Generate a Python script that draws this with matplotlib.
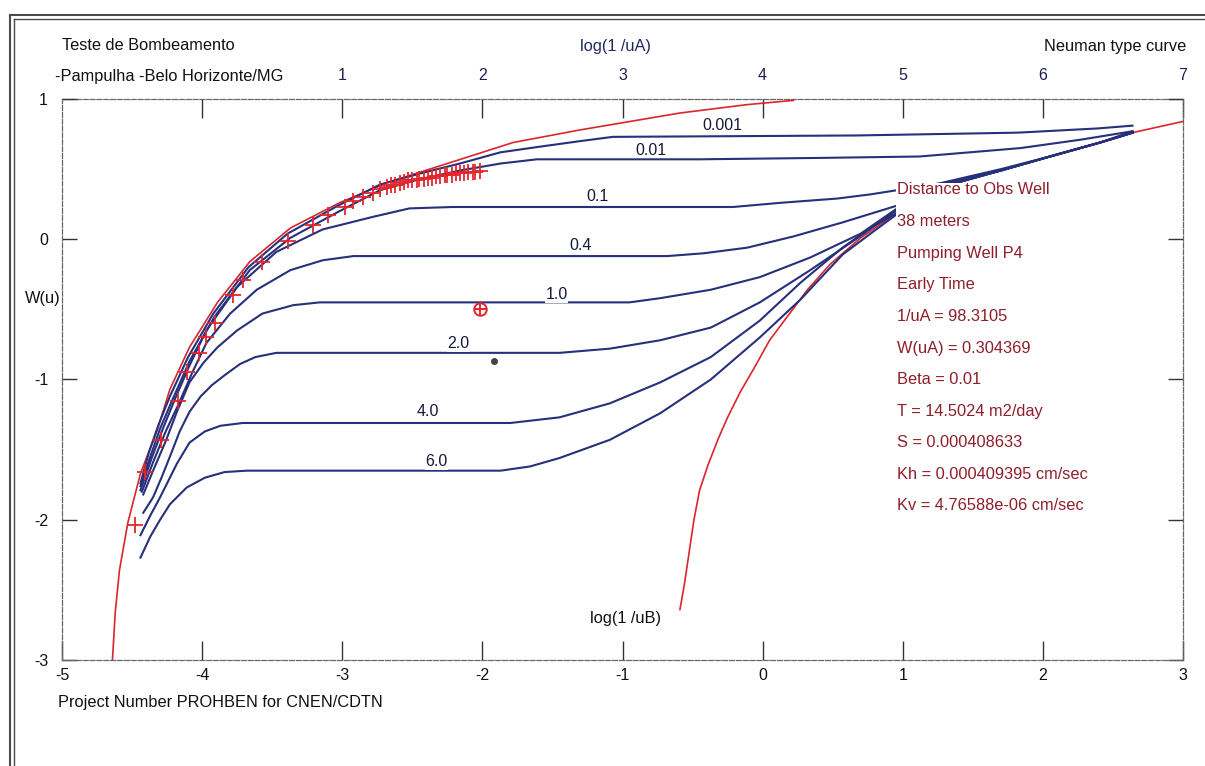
import matplotlib
matplotlib.use("Agg")
import matplotlib.pyplot as plt
from matplotlib.patches import Rectangle
from matplotlib.lines import Line2D

plt.rcParams['font.family'] = ['Liberation Sans', 'DejaVu Sans']
plt.rcParams['axes.unicode_minus'] = False

# ---------------- data (log10 values) ----------------
# Theis curve, type A (early time) vs log(1/uB) axis
theis_a_x = [-4.64, -4.62, -4.59, -4.53, -4.44, -4.32, -4.23, -4.09, -3.89, -3.66, -3.37, -3.02,
             -2.66, -2.25, -1.78, -1.30, -0.59, -0.11, 0.22]
theis_a_w = [-3.00, -2.66, -2.36, -2.02, -1.67, -1.36, -1.07, -0.77, -0.45, -0.16, 0.08, 0.26,
             0.41, 0.54, 0.69, 0.78, 0.90, 0.96, 0.99]
# Theis curve, type B (late time)
theis_b_x = [-0.59, -0.56, -0.53, -0.49, -0.45, -0.39, -0.32, -0.25, -0.16, -0.05, 0.05, 0.20,
             0.32, 0.48, 0.70, 0.96, 1.27, 1.70, 2.05, 2.41, 2.64, 3.00]
theis_b_w = [-2.64, -2.47, -2.27, -2.00, -1.79, -1.61, -1.43, -1.27, -1.09, -0.90, -0.72, -0.52,
             -0.36, -0.18, 0.01, 0.19, 0.37, 0.49, 0.59, 0.69, 0.76, 0.84]

beta_labels = ["0.001", "0.01", "0.1", "0.4", "1.0", "2.0", "4.0", "6.0"]

b0001_x = [-4.44, -4.38, -4.31, -4.23, -4.10, -3.92, -3.67, -3.39, -3.03, -2.73, -2.44, -2.16,
           -1.87, -1.59, -1.30, -1.07, 0.67, 1.82, 2.39, 2.64]
b0001_w = [-1.74, -1.52, -1.32, -1.12, -0.84, -0.53, -0.20, 0.04, 0.24, 0.39, 0.47, 0.54,
           0.62, 0.66, 0.70, 0.73, 0.74, 0.76, 0.79, 0.81]

b001_x = [-4.44, -4.37, -4.30, -4.21, -4.09, -3.91, -3.66, -3.37, -3.02, -2.73, -2.44, -2.16,
          -1.87, -1.61, -0.45, 0.41, 1.12, 1.84, 2.27, 2.64]
b001_w = [-1.76, -1.55, -1.35, -1.14, -0.87, -0.55, -0.22, 0.01, 0.20, 0.35, 0.43, 0.49,
          0.54, 0.57, 0.57, 0.58, 0.59, 0.65, 0.71, 0.77]

b01_x = [-4.44, -4.36, -4.28, -4.19, -4.09, -3.97, -3.75, -3.47, -3.14, -2.78, -2.52, -2.21,
         -0.21, 0.13, 0.53, 0.77, 0.96, 1.27, 1.70, 2.05, 2.41, 2.64]
b01_w = [-1.79, -1.56, -1.35, -1.13, -0.90, -0.65, -0.34, -0.09, 0.07, 0.16, 0.22, 0.23,
         0.23, 0.26, 0.29, 0.32, 0.35, 0.40, 0.50, 0.59, 0.69, 0.77]

b04_x = [-4.43, -4.35, -4.26, -4.17, -4.07, -3.97, -3.80, -3.61, -3.37, -3.14, -2.92, -0.68,
         -0.42, -0.11, 0.22, 0.57, 0.96, 1.27, 1.70, 2.05, 2.41, 2.64]
b04_w = [-1.80, -1.59, -1.37, -1.18, -0.95, -0.74, -0.53, -0.36, -0.22, -0.15, -0.12, -0.12,
         -0.10, -0.06, 0.02, 0.12, 0.24, 0.39, 0.49, 0.59, 0.69, 0.76]

b10_x = [-4.42, -4.35, -4.26, -4.18, -4.09, -3.99, -3.89, -3.75, -3.57, -3.35, -3.16, -0.95,
         -0.73, -0.37, -0.02, 0.34, 0.70, 0.96, 1.27, 1.70, 2.05, 2.41, 2.64]
b10_w = [-1.82, -1.65, -1.44, -1.23, -1.02, -0.88, -0.77, -0.65, -0.53, -0.47, -0.45, -0.45,
         -0.42, -0.36, -0.27, -0.13, 0.04, 0.22, 0.39, 0.49, 0.59, 0.69, 0.76]

b20_x = [-4.42, -4.35, -4.29, -4.23, -4.16, -4.09, -4.01, -3.93, -3.84, -3.73, -3.62, -3.47,
         -1.45, -1.09, -0.73, -0.37, -0.02, 0.34, 0.65, 0.96, 1.27, 1.70, 2.05, 2.41, 2.64]
b20_w = [-1.95, -1.84, -1.70, -1.55, -1.37, -1.23, -1.12, -1.04, -0.97, -0.89, -0.84, -0.81,
         -0.81, -0.78, -0.72, -0.63, -0.45, -0.22, -0.01, 0.21, 0.38, 0.49, 0.59, 0.69, 0.76]

b40_x = [-4.44, -4.37, -4.30, -4.24, -4.18, -4.09, -3.98, -3.87, -3.71, -1.80, -1.45, -1.09,
         -0.73, -0.37, -0.02, 0.27, 0.57, 0.77, 0.96, 1.27, 1.70, 2.05, 2.41, 2.64]
b40_w = [-2.11, -1.97, -1.84, -1.72, -1.60, -1.45, -1.37, -1.33, -1.31, -1.31, -1.27, -1.17,
         -1.02, -0.84, -0.58, -0.31, -0.06, 0.08, 0.19, 0.37, 0.49, 0.59, 0.69, 0.76]

b60_x = [-4.44, -4.37, -4.30, -4.23, -4.11, -3.98, -3.84, -3.68, -1.87, -1.66, -1.45, -1.09,
         -0.73, -0.37, -0.02, 0.27, 0.57, 0.77, 0.96, 1.27, 1.70, 2.05, 2.41, 2.64]
b60_w = [-2.27, -2.12, -2.00, -1.89, -1.77, -1.70, -1.66, -1.65, -1.65, -1.62, -1.56, -1.43,
         -1.24, -1.00, -0.70, -0.43, -0.11, 0.04, 0.18, 0.37, 0.49, 0.59, 0.69, 0.76]

# field drawdown data (crosses)
obs_x = [-4.48, -4.41, -4.29, -4.17, -4.11, -4.02, -3.97, -3.91, -3.78, -3.71, -3.57, -3.39,
         -3.21, -3.10, -2.98, -2.92, -2.85, -2.78, -2.73, -2.68,
         -2.65, -2.62, -2.59, -2.56, -2.53, -2.50, -2.47, -2.45, -2.42, -2.39, -2.36, -2.33,
         -2.30, -2.27, -2.25, -2.22, -2.19, -2.16, -2.13, -2.10, -2.07, -2.05, -2.02]
obs_w = [-2.04, -1.66, -1.43, -1.15, -0.95, -0.81, -0.70, -0.60, -0.40, -0.29, -0.16, -0.01,
         0.10, 0.17, 0.23, 0.27, 0.30, 0.33, 0.36, 0.37,
         0.39, 0.39, 0.40, 0.41, 0.42, 0.42, 0.42, 0.43, 0.43, 0.44, 0.44, 0.45,
         0.45, 0.46, 0.46, 0.46, 0.47, 0.47, 0.47, 0.48, 0.48, 0.48, 0.49]

match_x, match_w = -2.02, -0.50
dot_x, dot_w = -1.92, -0.87

bottom_ticks = [-5, -4, -3, -2, -1, 0, 1, 2, 3]
top_ticks = [0, 1, 2, 3, 4, 5, 6, 7]
top_labels = ["", "1", "2", "3", "4", "5", "6", "7"]
left_ticks = [-3, -2, -1, 0, 1]

info_lines = ["Distance to Obs Well", "38 meters", "Pumping Well P4", "Early Time",
              "1/uA = 98.3105", "W(uA) = 0.304369", "Beta = 0.01", "T = 14.5024 m2/day",
              "S = 0.000408633", "Kh = 0.000409395 cm/sec", "Kv = 4.76588e-06 cm/sec"]

# ---------------- figure ----------------
W, H = 1205, 766
fig = plt.figure(figsize=(W / 100, H / 100), dpi=100)
fig.patch.set_facecolor('white')


def fx(px):
    return px / W


def fy(py):
    return 1 - py / H


ax = fig.add_axes([fx(62), fy(660), (1183 - 62) / W, (660 - 99) / H])
ax.set_xlim(-5, 3)
ax.set_ylim(-3, 1)
ax.set_facecolor('white')

blue = '#27307a'
red = '#d8262c'
dark_red = '#8e1f2a'
navy_txt = '#222a5c'

# curves
ax.plot(theis_a_x, theis_a_w, color=red, lw=1.2, zorder=2)
ax.plot(theis_b_x, theis_b_w, color=red, lw=1.2, zorder=2)
curves = [(b0001_x, b0001_w), (b001_x, b001_w), (b01_x, b01_w), (b04_x, b04_w),
          (b10_x, b10_w), (b20_x, b20_w), (b40_x, b40_w), (b60_x, b60_w)]
for cx, cw in curves:
    ax.plot(cx, cw, color=blue, lw=1.5, zorder=3)

ax.plot(obs_x, obs_w, linestyle='none', marker='+', ms=11, mew=1.3, color='#e4262c', zorder=4)
ax.plot([match_x], [match_w], linestyle='none', marker='o', ms=9, mfc='none', mec='#e4262c',
        mew=1.4, zorder=4)
ax.plot([match_x], [match_w], linestyle='none', marker='+', ms=9, mew=1.4, color='#e4262c', zorder=4)
ax.plot([dot_x], [dot_w], linestyle='none', marker='o', ms=4, color='#444444', zorder=4)

# curve labels (sit just above their line)
label_pos = [(-0.29, 0.76), (-0.80, 0.58), (-1.18, 0.25), (-1.30, -0.10),
             (-1.47, -0.45), (-2.17, -0.80), (-2.39, -1.28), (-2.33, -1.64)]
for lab, (lx, ly) in zip(beta_labels, label_pos):
    ax.text(lx, ly, lab, ha='center', va='bottom', fontsize=11.5, color='#15183a', zorder=5,
            bbox=dict(facecolor='white', edgecolor='none', pad=0.3))

# white info box covering the curves
ax.add_patch(Rectangle((0.95, -2.02), 1.48, 2.42, facecolor='white', edgecolor='none', zorder=6))

# axes styling
for side in ['bottom', 'left', 'right']:
    ax.spines[side].set_linestyle((0, (4, 1.5)))
    ax.spines[side].set_color('#666666')
    ax.spines[side].set_linewidth(0.9)
ax.spines['top'].set_visible(False)

ax.set_xticks(bottom_ticks)
ax.set_xticklabels([str(t) for t in bottom_ticks])
ax.set_yticks(left_ticks)
ax.set_yticklabels([str(t) for t in left_ticks])
ax.tick_params(axis='x', direction='in', length=14, width=1.0, color='#333333', pad=5.5,
               labelsize=11.5, labelcolor='#111111')
ax.tick_params(axis='y', direction='in', length=11, width=1.0, color='#333333', pad=10,
               labelsize=11.5, labelcolor='#111111', right=True)

sec = ax.secondary_xaxis('top', functions=(lambda v: v + 4, lambda v: v - 4))
sec.set_xticks(top_ticks)
sec.set_xticklabels(top_labels)
sec.tick_params(direction='in', length=14, width=1.0, color='#333333', pad=11.5,
                labelsize=11.5, labelcolor='#1c2050')
sec.spines['top'].set_linestyle((0, (4, 1.5)))
sec.spines['top'].set_color('#666666')
sec.spines['top'].set_linewidth(0.9)

# texts
fs = 11.8
fig.text(fx(62), fy(46), "Teste de Bombeamento", fontsize=fs, va='center', ha='left', color='#111111')
fig.text(fx(55), fy(77), "-Pampulha -Belo Horizonte/MG", fontsize=fs, va='center', ha='left',
         color='#111111')
fig.text(fx(615), fy(46), "log(1 /uA)", fontsize=fs, va='center', ha='center', color=navy_txt)
fig.text(fx(1186), fy(46), "Neuman type curve", fontsize=fs, va='center', ha='right', color='#111111')
fig.text(fx(61), fy(298), "W(u)", fontsize=fs, va='center', ha='right', color='#111111')
fig.text(fx(625), fy(618), "log(1 /uB)", fontsize=fs, va='center', ha='center', color='#111111')
fig.text(fx(58), fy(703), "Project Number PROHBEN for CNEN/CDTN", fontsize=fs, va='center',
         ha='left', color='#111111')

for i, line in enumerate(info_lines):
    fig.text(fx(897), fy(190 + i * 31.6), line, fontsize=fs, va='center', ha='left', color=dark_red,
             zorder=10)

# window frame (scanned screenshot border)
frame_col = '#4a4a4a'
fig.add_artist(Line2D([fx(10), fx(1205)], [fy(15), fy(15)], color=frame_col, lw=1.5))
fig.add_artist(Line2D([fx(14), fx(1205)], [fy(19), fy(19)], color=frame_col, lw=1.0))
fig.add_artist(Line2D([fx(10), fx(10)], [fy(15), fy(766)], color=frame_col, lw=1.5))
fig.add_artist(Line2D([fx(14), fx(14)], [fy(19), fy(766)], color=frame_col, lw=1.0))

fig.savefig("out.png", dpi=100, facecolor='white')
